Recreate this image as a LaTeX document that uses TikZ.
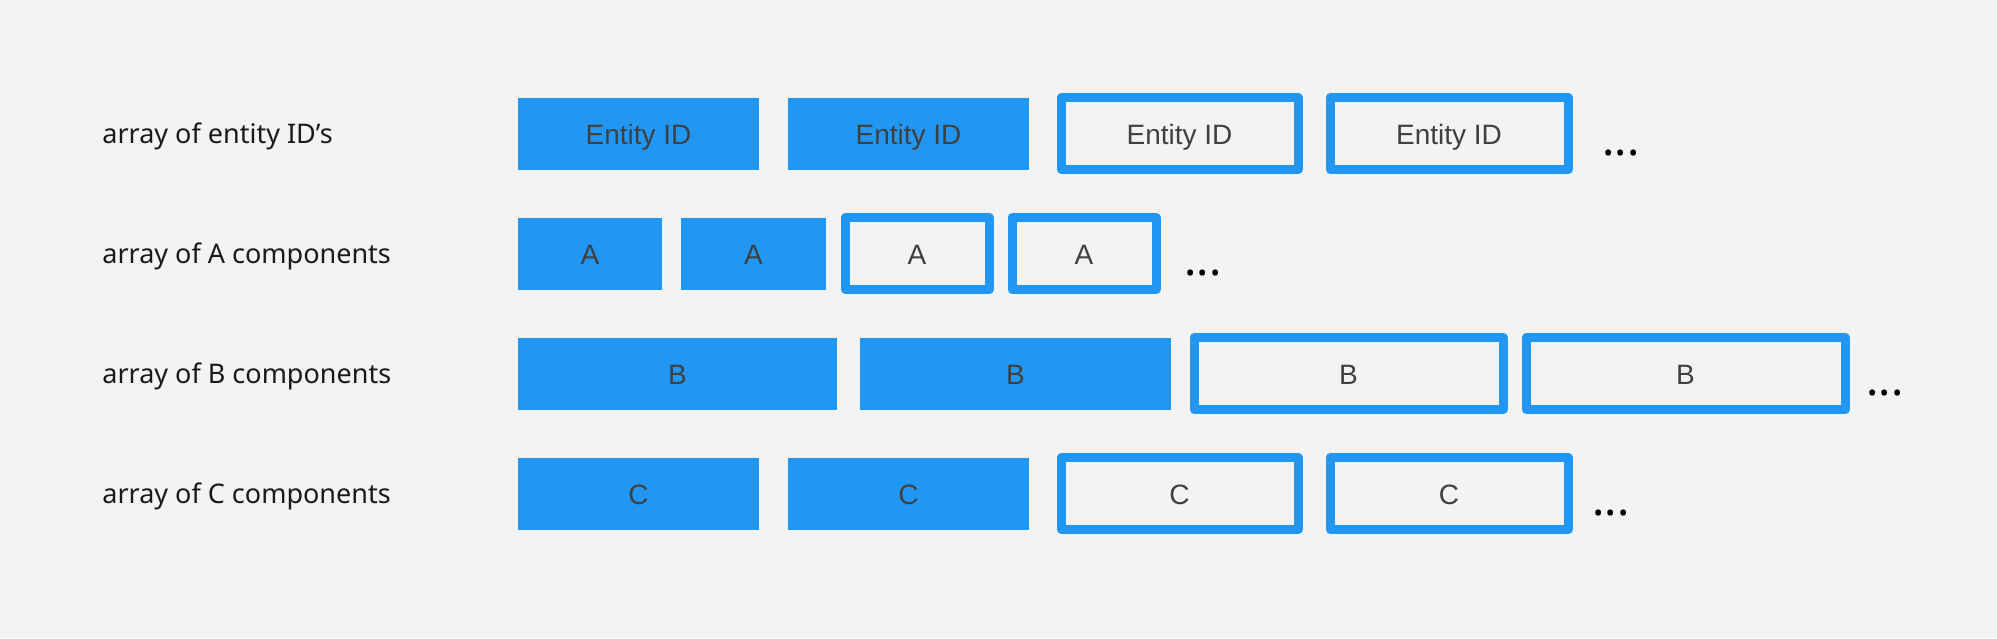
\documentclass[tikz,border=0pt]{standalone}
\usepackage{fontspec}
\setmainfont{Liberation Sans}
\newfontfamily\labelfont{Noto Sans}
\definecolor{ecsblue}{HTML}{2196F3}
\definecolor{ecsbg}{HTML}{F3F3F3}
\definecolor{celltext}{HTML}{404040}
\definecolor{labeltext}{HTML}{1A1A1A}
\begin{document}
\begin{tikzpicture}[x=0.5pt,y=-0.5pt,
				cell/.style={inner sep=0pt,minimum height=36pt,text height=10.5pt,text depth=0pt,text=celltext,font=\fontsize{14}{16}\selectfont},
				full/.style={cell,fill=ecsblue},
				hollow/.style={cell,draw=ecsblue,line width=4.5pt,line join=round,fill=ecsbg},
				rowlabel/.style={anchor=base west,inner sep=0pt,text=labeltext,font=\labelfont\fontsize{13.5}{16}\selectfont},
				more/.style={anchor=base west,inner sep=0pt,font=\labelfont\bfseries\fontsize{23}{26}\selectfont}]
\fill[ecsbg] (0,0) rectangle (1997,638);
% row labels
\node[rowlabel] (lid) at (102,143) {array of entity ID’s};
\node[rowlabel] (la) at (102,263) {array of A components};
\node[rowlabel] (lb) at (102,383) {array of B components};
\node[rowlabel] (lc) at (102,503) {array of C components};
% entity IDs
\node[full,minimum width=120.5pt] (id1) at (638.5,133.5) {Entity ID};
\node[full,minimum width=120.5pt] (id2) at (908.5,133.5) {Entity ID};
\node[hollow,minimum width=118.5pt] (id3) at (1179.5,133.5) {Entity ID};
\node[hollow,minimum width=119pt] (id4) at (1449,133.5) {Entity ID};
\node[more] (idmore) at (1602,155) {...};
% A components
\node[full,minimum width=72pt] (a1) at (590,253.5) {A};
\node[full,minimum width=72.5pt] (a2) at (753.5,253.5) {A};
\node[hollow,minimum width=72pt] (a3) at (917,253.5) {A};
\node[hollow,minimum width=72pt] (a4) at (1084,253.5) {A};
\node[more] (amore) at (1184,275) {...};
% B components
\node[full,minimum width=159.5pt] (b1) at (677.5,373.5) {B};
\node[full,minimum width=155.5pt] (b2) at (1015.5,373.5) {B};
\node[hollow,minimum width=154.5pt] (b3) at (1348.5,373.5) {B};
\node[hollow,minimum width=159.5pt] (b4) at (1685.5,373.5) {B};
\node[more] (bmore) at (1866,395) {...};
% C components
\node[full,minimum width=120.5pt] (c1) at (638.5,493.5) {C};
\node[full,minimum width=120.5pt] (c2) at (908.5,493.5) {C};
\node[hollow,minimum width=118.5pt] (c3) at (1179.5,493.5) {C};
\node[hollow,minimum width=119pt] (c4) at (1449,493.5) {C};
\node[more] (cmore) at (1592,515) {...};
\end{tikzpicture}
\end{document}
